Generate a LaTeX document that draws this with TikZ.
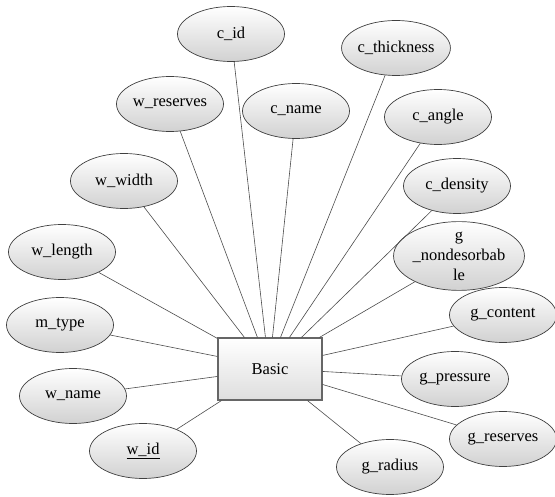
\documentclass[tikz,border=0pt]{standalone}
\usepackage{fontspec}
\setmainfont{Liberation Serif}
\usetikzlibrary{shapes.geometric,calc}
\begin{document}
\begin{tikzpicture}[x=1pt,y=-1pt,
  attr/.style={ellipse, draw=black!75, line width=0.7pt,
    top color=white, bottom color=black!18,
    minimum width=107pt, minimum height=55pt, inner sep=0pt,
    font=\fontsize{16.5}{20}\selectfont, align=center},
  entity/.style={rectangle, draw=black!60, line width=1.1pt,
    top color=white, bottom color=black!13,
    minimum width=104pt, minimum height=62pt, inner sep=0pt,
    font=\fontsize{16.5}{20}\selectfont},
  link/.style={draw=black!70, line width=0.6pt}]
\useasboundingbox (0,0) rectangle (555,497);

% entity
\node[entity] (basic) at (270,369) {Basic};

% attributes
\node[attr] (cid)   at (231,34)  {c\_id};
\node[attr] (cthk)  at (396,48)  {c\_thickness};
\node[attr] (wres)  at (170,104) {w\_reserves};
\node[attr] (cname) at (296,111) {c\_name};
\node[attr] (cang)  at (438,117) {c\_angle};
\node[attr] (wwid)  at (124,181) {w\_width};
\node[attr] (cden)  at (457,186) {c\_density};
\node[attr] (wlen)  at (62,252)  {w\_length};
\node[attr, minimum height=59pt] (gnon) at (459,256) {g\\\_nondesorbab\\le};
\node[attr] (mtype) at (60,325)  {m\_type};
\node[attr] (gcon)  at (503,315) {g\_content};
\node[attr] (gpre)  at (455,379) {g\_pressure};
\node[attr] (wname) at (73,396)  {w\_name};
\node[attr] (gres)  at (503,439) {g\_reserves};
\node[attr] (wid)   at (143,451) {\underline{w\_id}};
\node[attr] (grad)  at (390,467) {g\_radius};

% end points of the connectors on the entity's border
\coordinate (t1) at ($(basic.north west)+(27,0)$);
\coordinate (t2) at ($(basic.north west)+(40,0)$);
\coordinate (t3) at ($(basic.north west)+(48,0)$);
\coordinate (t4) at ($(basic.north west)+(55,0)$);
\coordinate (t5) at ($(basic.north west)+(63,0)$);
\coordinate (t6) at ($(basic.north west)+(72,0)$);
\coordinate (t7) at ($(basic.north west)+(84,0)$);
\coordinate (t8) at ($(basic.north west)+(102,0)$);
\coordinate (l1) at ($(basic.north west)+(0,1)$);
\coordinate (l2) at ($(basic.north west)+(0,19)$);
\coordinate (l3) at ($(basic.north west)+(0,39)$);
\coordinate (b1) at ($(basic.south west)+(4,0)$);
\coordinate (b2) at ($(basic.south west)+(90,0)$);
\coordinate (r1) at ($(basic.north east)+(0,18)$);
\coordinate (r2) at ($(basic.north east)+(0,34)$);
\coordinate (r3) at ($(basic.north east)+(0,47)$);

% connectors from each attribute to the entity
\path[link] (wwid) -- (t1);
\path[link] (wres) -- (t2);
\path[link] (cid) -- (t3);
\path[link] (cname) -- (t4);
\path[link] (cthk) -- (t5);
\path[link] (cang) -- (t6);
\path[link] (cden) -- (t7);
\path[link] (gnon) -- (t8);
\path[link] (wlen) -- (l1);
\path[link] (mtype) -- (l2);
\path[link] (wname) -- (l3);
\path[link] (wid) -- (b1);
\path[link] (grad) -- (b2);
\path[link] (gcon) -- (r1);
\path[link] (gpre) -- (r2);
\path[link] (gres) -- (r3);
\end{tikzpicture}
\end{document}
